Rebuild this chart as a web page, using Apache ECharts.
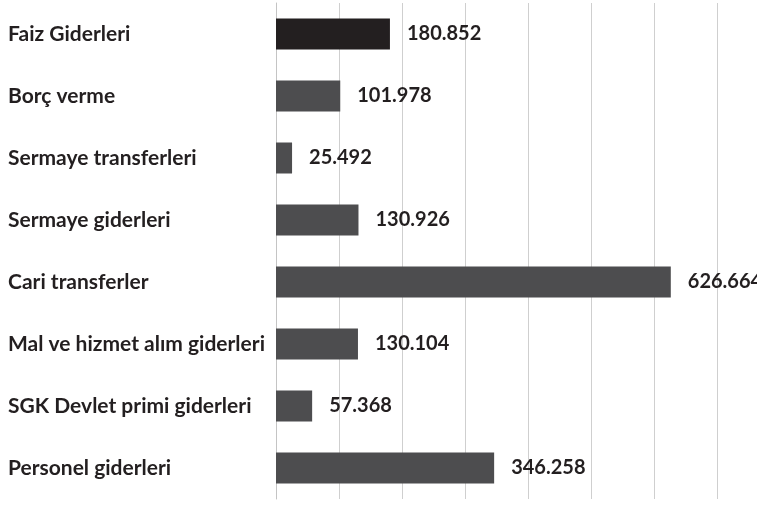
<!DOCTYPE html>
<html>
<head>
<meta charset="utf-8">
<script src="https://cdn.jsdelivr.net/npm/echarts@6/dist/echarts.min.js"></script>
<style>
  html, body { margin: 0; padding: 0; background: #fff; }
  #chart { width: 757px; height: 505px; }
</style>
</head>
<body>
<div id="chart"></div>
<script>
// bottom to top, as the y axis draws them
var categories = [
  "Personel giderleri",
  "SGK Devlet primi giderleri",
  "Mal ve hizmet alım giderleri",
  "Cari transferler",
  "Sermaye giderleri",
  "Sermaye transferleri",
  "Borç verme",
  "Faiz Giderleri"
];
var values = [346.258, 57.368, 130.104, 626.664, 130.926, 25.492, 101.978, 180.852];
var highlighted = "Faiz Giderleri";

var chart = echarts.init(document.getElementById("chart"));

chart.setOption({
  animation: false,
  textStyle: { fontFamily: "Lato" },
  grid: {
    left: 276,
    right: 40,
    top: 3,
    bottom: 6
  },
  xAxis: {
    type: "value",
    min: 0,
    max: 700,
    interval: 100,
    axisLabel: { show: false },
    axisTick: { show: false },
    axisLine: { show: false },
    splitLine: {
      show: true,
      lineStyle: { color: "#cfcfcf", width: 1 }
    }
  },
  yAxis: {
    type: "category",
    data: categories,
    axisTick: { show: false },
    axisLine: {
      show: true,
      lineStyle: { color: "#c4c4c4", width: 1 }
    },
    axisLabel: {
      align: "left",
      margin: 268,
      color: "#231f20",
      fontFamily: "Lato",
      fontWeight: "bold",
      fontSize: 21
    }
  },
  series: [
    {
      type: "bar",
      barCategoryGap: "50%",
      data: values.map(function (v, i) {
        return {
          value: v,
          itemStyle: { color: categories[i] === highlighted ? "#231f20" : "#4d4d4f" }
        };
      }),
      label: {
        show: true,
        position: "right",
        distance: 17,
        color: "#231f20",
        fontFamily: "Lato",
        fontWeight: "bold",
        fontSize: 20,
        formatter: function (p) { return p.value.toFixed(3); }
      }
    }
  ]
});
</script>
</body>
</html>
